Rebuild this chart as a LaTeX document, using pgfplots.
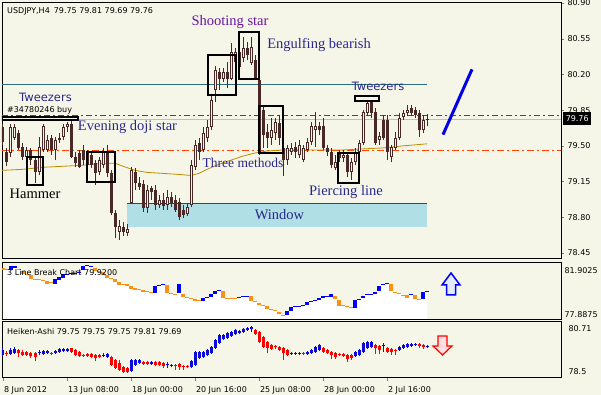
\documentclass[border=0pt]{standalone}
\usepackage{fontspec}
\setmainfont{DejaVu Sans}
\newfontfamily\ser{Liberation Serif}
\usepackage{pgfplots}
\pgfplotsset{compat=1.18}
\usepackage{pgfplotstable}
\definecolor{bg}{RGB}{246,246,232}
\definecolor{candle}{RGB}{75,40,40}
\definecolor{win}{RGB}{176,224,230}
\definecolor{winline}{RGB}{50,75,80}
\definecolor{hline}{RGB}{45,110,130}
\definecolor{ord}{RGB}{0,128,0}
\definecolor{sup}{RGB}{255,69,0}
\definecolor{ma}{RGB}{190,140,0}
\definecolor{tl}{RGB}{0,0,230}
\definecolor{lbO}{RGB}{250,145,20}
\definecolor{lbB}{RGB}{0,0,255}
\definecolor{haR}{RGB}{255,0,0}
\definecolor{haB}{RGB}{10,10,220}
\definecolor{navy}{RGB}{40,40,140}
\definecolor{purp}{RGB}{105,20,160}
\definecolor{pline}{RGB}{190,190,190}
\newcommand\ui{\fontsize{8}{9.6}\selectfont}
\newcommand\an{\ser\fontsize{14.5}{17}\selectfont}
\newcommand\tw{\fontsize{11.5}{13}\selectfont}

\pgfplotstableread{
i O H L C
0 79.68 79.71 79.51 79.54
1 79.44 79.48 79.30 79.34
2 79.43 79.71 79.39 79.68
3 79.58 79.71 79.56 79.68
4 79.63 79.66 79.46 79.48
5 79.49 79.53 79.36 79.39
6 79.39 79.49 79.36 79.46
7 79.46 79.48 79.31 79.36
8 79.36 79.39 79.14 79.24
9 79.24 79.59 79.21 79.49
10 79.46 79.71 79.44 79.69
11 79.46 79.61 79.44 79.56
12 79.58 79.61 79.41 79.46
13 79.46 79.59 79.36 79.56
14 79.56 79.63 79.53 79.58
15 79.59 79.71 79.56 79.68
16 79.68 79.73 79.64 79.71
17 79.71 79.75 79.38 79.39
18 79.39 79.44 79.29 79.33
19 79.43 79.46 79.28 79.29
20 79.46 79.51 79.31 79.36
21 79.31 79.46 79.26 79.44
22 79.41 79.44 79.28 79.31
23 79.33 79.36 79.12 79.23
24 79.24 79.39 79.21 79.36
25 79.31 79.48 79.28 79.44
26 79.43 79.51 79.19 79.23
27 79.23 79.26 78.82 78.84
28 78.84 78.87 78.60 78.70
29 78.66 78.77 78.58 78.71
30 78.70 78.75 78.62 78.66
31 78.65 78.73 78.62 78.69
32 78.94 79.29 78.93 79.26
33 79.24 79.28 79.07 79.14
34 79.14 79.19 79.07 79.10
35 79.13 79.17 78.85 78.89
36 78.89 79.12 78.84 79.07
37 79.09 79.11 78.97 79.05
38 79.07 79.12 78.87 78.92
39 78.92 79.02 78.89 78.97
40 78.97 79.04 78.87 78.91
41 78.92 79.07 78.87 79.00
42 79.00 79.05 78.90 78.94
43 78.97 79.02 78.85 78.87
44 78.95 78.99 78.77 78.80
45 78.87 78.92 78.79 78.82
46 78.83 78.94 78.81 78.90
47 78.92 79.36 78.90 79.31
48 79.29 79.56 79.26 79.51
49 79.53 79.58 79.36 79.44
50 79.46 79.68 79.44 79.63
51 79.58 79.75 79.54 79.68
52 79.68 80.00 79.66 79.95
53 80.05 80.28 79.93 80.24
54 80.22 80.26 80.05 80.16
55 80.16 80.26 80.13 80.22
56 80.22 80.32 80.07 80.16
57 80.16 80.51 80.15 80.42
58 80.32 80.46 80.24 80.42
59 80.27 80.46 80.22 80.42
60 80.36 80.57 80.32 80.46
61 80.46 80.52 80.34 80.39
62 80.31 80.57 80.29 80.47
63 80.34 80.39 80.15 80.16
64 80.15 80.17 79.41 79.44
65 79.85 79.89 79.48 79.61
66 79.64 79.71 79.48 79.58
67 79.58 79.77 79.51 79.66
68 79.63 79.77 79.56 79.73
69 79.72 79.80 79.51 79.58
70 79.48 79.51 79.20 79.36
71 79.36 79.51 79.31 79.48
72 79.44 79.53 79.41 79.48
73 79.49 79.54 79.38 79.44
74 79.41 79.56 79.38 79.51
75 79.36 79.51 79.34 79.48
76 79.46 79.58 79.44 79.54
77 79.54 79.73 79.51 79.69
78 79.66 79.83 79.49 79.69
79 79.69 79.73 79.61 79.66
80 79.69 79.77 79.46 79.48
81 79.48 79.51 79.40 79.44
82 79.44 79.48 79.28 79.31
83 79.28 79.41 79.26 79.34
84 79.44 79.46 79.34 79.38
85 79.38 79.46 79.34 79.41
86 79.41 79.43 79.19 79.24
87 79.24 79.38 79.17 79.34
88 79.34 79.48 79.31 79.44
89 79.44 79.56 79.41 79.53
90 79.53 79.85 79.51 79.83
91 79.82 79.95 79.79 79.92
92 79.95 79.97 79.77 79.82
93 79.83 79.87 79.51 79.53
94 79.56 79.64 79.51 79.60
95 79.75 79.80 79.56 79.58
96 79.75 79.80 79.36 79.44
97 79.39 79.51 79.34 79.49
98 79.48 79.64 79.46 79.58
99 79.58 79.82 79.56 79.77
100 79.78 79.85 79.75 79.82
101 79.82 79.90 79.79 79.85
102 79.87 79.90 79.79 79.82
103 79.85 79.88 79.77 79.80
104 79.82 79.85 79.59 79.66
105 79.66 79.80 79.63 79.75
106 79.75 79.81 79.69 79.76
}\candles

\pgfplotstableread{
i lo hi c
0 81.37 81.48 0
1 81.34 81.44 0
2 81.34 81.59 1
3 81.48 81.59 1
4 81.34 81.41 0
5 81.06 81.27 0
6 80.99 81.09 0
7 80.70 80.99 0
8 80.63 80.70 0
9 80.60 80.67 0
10 80.56 80.63 0
11 80.35 80.56 0
12 80.42 80.49 0
13 80.35 80.70 1
14 80.63 80.85 1
15 80.78 81.06 1
16 81.02 81.09 1
17 81.06 81.13 1
18 81.06 81.13 1
19 81.13 81.20 1
20 81.34 81.62 1
21 81.59 81.66 1
22 81.55 81.62 1
23 81.27 81.48 0
24 81.20 81.27 0
25 80.99 81.20 0
26 80.78 80.99 0
27 80.70 80.78 0
28 80.49 80.70 0
29 80.28 80.49 0
30 80.28 80.35 0
31 80.21 80.35 0
32 80.00 80.21 0
33 79.93 80.07 0
34 79.93 80.00 0
35 79.79 79.93 0
36 79.79 79.86 0
37 79.72 79.79 0
38 79.72 80.21 1
39 80.21 80.28 1
40 80.28 80.35 1
41 79.72 80.28 0
42 79.65 79.72 0
43 79.61 79.68 0
44 79.72 80.35 1
45 79.44 79.65 0
46 79.37 79.44 0
47 79.30 79.37 0
48 79.16 79.30 0
49 79.16 79.23 0
50 79.16 79.37 1
51 79.37 79.44 1
52 79.44 79.65 1
53 79.65 79.86 1
54 79.86 79.93 1
55 79.37 79.86 0
56 79.30 79.37 0
57 79.30 79.37 0
58 79.33 79.40 0
59 79.37 79.44 1
60 79.44 79.51 1
61 79.44 79.51 1
62 79.16 79.51 0
63 79.05 79.12 0
64 78.87 79.01 0
65 78.80 78.87 0
66 78.59 78.80 0
67 78.49 78.56 0
68 78.45 78.52 0
69 78.24 78.38 0
70 78.13 78.20 0
71 78.17 78.45 1
72 78.45 78.73 1
73 78.70 78.77 1
74 78.73 78.80 1
75 78.77 78.84 1
76 78.87 79.09 1
77 79.09 79.16 1
78 79.16 79.23 1
79 79.23 79.37 1
80 79.37 79.51 1
81 79.47 79.54 1
82 79.44 79.65 1
83 79.30 79.51 0
84 78.80 79.23 0
85 78.77 78.84 0
86 78.70 78.77 0
87 78.66 78.73 0
88 78.66 79.23 1
89 79.26 79.33 1
90 79.37 79.51 1
91 79.58 79.65 1
92 79.61 79.68 1
93 79.65 79.79 1
94 79.86 80.21 1
95 80.28 80.35 1
96 80.35 80.42 1
97 79.86 80.35 0
98 79.72 79.79 0
99 79.65 79.72 0
100 79.54 79.61 0
101 79.37 79.58 0
102 79.58 79.65 1
103 79.30 79.58 0
104 79.23 79.30 0
105 79.30 79.79 1
106 79.79 79.86 1
}\lb

\pgfplotstableread{
i O H L C
0 79.37 79.64 79.33 79.57
1 79.45 79.53 79.33 79.41
2 79.41 79.64 79.37 79.57
3 79.45 79.68 79.41 79.61
4 79.57 79.61 79.29 79.45
5 79.49 79.57 79.33 79.37
6 79.49 79.53 79.33 79.37
7 79.45 79.49 79.25 79.33
8 79.45 79.49 79.13 79.29
9 79.45 79.57 79.37 79.49
10 79.41 79.57 79.37 79.53
11 79.45 79.57 79.41 79.53
12 79.45 79.49 79.37 79.41
13 79.45 79.57 79.41 79.53
14 79.49 79.64 79.45 79.61
15 79.53 79.64 79.49 79.61
16 79.53 79.64 79.49 79.61
17 79.64 79.64 79.45 79.49
18 79.57 79.61 79.33 79.37
19 79.49 79.53 79.29 79.33
20 79.37 79.41 79.29 79.33
21 79.41 79.45 79.29 79.33
22 79.41 79.45 79.25 79.29
23 79.37 79.41 79.13 79.25
24 79.37 79.41 79.25 79.29
25 79.33 79.45 79.29 79.37
26 79.29 79.45 79.25 79.41
27 79.29 79.33 78.93 78.97
28 79.17 79.21 78.82 78.86
29 79.05 79.17 78.74 78.78
30 78.90 78.93 78.66 78.70
31 78.86 78.90 78.66 78.70
32 78.74 79.21 78.70 79.17
33 78.97 79.21 78.93 79.17
34 79.05 79.21 79.01 79.17
35 79.09 79.13 78.97 79.01
36 79.09 79.13 78.97 79.01
37 79.01 79.13 78.97 79.09
38 79.09 79.13 78.93 78.97
39 79.09 79.13 78.93 78.97
40 79.05 79.09 78.86 78.93
41 78.97 79.09 78.86 79.01
42 78.93 79.01 78.90 78.97
43 78.97 79.01 78.78 78.93
44 79.01 79.05 78.78 78.90
45 78.93 78.97 78.78 78.90
46 78.93 78.97 78.86 78.90
47 78.90 79.17 78.86 79.13
48 78.97 79.53 78.93 79.49
49 79.25 79.53 79.21 79.49
50 79.29 79.53 79.25 79.49
51 79.37 79.61 79.33 79.57
52 79.45 79.72 79.41 79.68
53 79.64 80.00 79.61 79.96
54 79.84 80.20 79.80 80.16
55 80.00 80.20 79.96 80.16
56 80.04 80.28 80.00 80.24
57 80.12 80.32 80.08 80.28
58 80.20 80.39 80.16 80.35
59 80.24 80.35 80.20 80.32
60 80.28 80.43 80.24 80.39
61 80.35 80.47 80.32 80.43
62 80.39 80.51 80.28 80.47
63 80.35 80.39 80.16 80.20
64 80.28 80.32 79.84 79.88
65 80.08 80.12 79.64 79.68
66 79.88 79.92 79.45 79.64
67 79.76 79.80 79.57 79.61
68 79.72 79.76 79.61 79.68
69 79.68 79.72 79.53 79.57
70 79.64 79.68 79.17 79.45
71 79.57 79.61 79.33 79.37
72 79.41 79.49 79.37 79.45
73 79.41 79.49 79.37 79.45
74 79.41 79.49 79.37 79.45
75 79.45 79.49 79.37 79.41
76 79.41 79.53 79.37 79.49
77 79.45 79.61 79.41 79.57
78 79.49 79.72 79.45 79.68
79 79.57 79.80 79.53 79.76
80 79.64 79.68 79.45 79.49
81 79.57 79.61 79.41 79.45
82 79.49 79.53 79.21 79.37
83 79.45 79.49 79.21 79.29
84 79.41 79.45 79.33 79.37
85 79.41 79.45 79.29 79.33
86 79.37 79.41 79.09 79.21
87 79.37 79.41 79.17 79.25
88 79.33 79.53 79.29 79.49
89 79.37 79.61 79.33 79.57
90 79.49 79.88 79.45 79.84
91 79.64 79.92 79.61 79.88
92 79.68 79.92 79.64 79.88
93 79.76 79.80 79.41 79.64
94 79.72 79.76 79.41 79.57
95 79.72 79.84 79.49 79.76
96 79.64 79.68 79.45 79.49
97 79.61 79.64 79.37 79.49
98 79.57 79.61 79.37 79.53
99 79.57 79.72 79.53 79.68
100 79.64 79.80 79.61 79.76
101 79.68 79.84 79.64 79.80
102 79.72 79.84 79.68 79.80
103 79.76 79.84 79.72 79.80
104 79.80 79.84 79.64 79.72
105 79.76 79.80 79.61 79.68
106 79.68 79.76 79.64 79.72
}\ha

\pgfplotsset{
  panel/.style={scale only axis, width=559pt, xmin=-0.25, xmax=139.5,
    axis line style={black, line width=0.8pt}, clip=true, tick align=outside,
    ytick pos=right, yticklabel pos=right,
    /pgf/number format/assume math mode=true, ticklabel style={font=\ui},
    xtick=\empty, anchor=south west},
  eb/.style 2 args={draw=none, mark=none, forget plot,
    /pgfplots/error bars/y dir=plus, /pgfplots/error bars/y explicit,
    /pgfplots/error bars/error mark=none,
    /pgfplots/error bars/error bar style={line width=#1, draw=#2, solid}},
}

\begin{document}
\begin{tikzpicture}
\useasboundingbox (0,0) rectangle (601pt,395pt);
\fill[bg] (0,0) rectangle (601pt,395pt);

% ---------------- main panel ----------------
\begin{axis}[panel, at={(2pt,137pt)}, height=256pt, ymin=78.401, ymax=80.91,
  ytick={78.45,78.80,79.15,79.50,79.85,80.20,80.55,80.90}, major tick length=3pt,
  yticklabel style={/pgf/number format/fixed, /pgf/number format/fixed zerofill, /pgf/number format/precision=2}]
\addplot[fill=win, draw=none, forget plot] coordinates {(31,78.70) (31,78.94) (106,78.94) (106,78.70)} -- cycle;
\addplot[winline, line width=1pt, forget plot] coordinates {(31,78.94) (106,78.94)};
\addplot[hline, line width=1pt, forget plot] coordinates {(-0.25,80.10) (106,80.10)};
\addplot[ord, line width=0.8pt, dash pattern=on 6pt off 3pt on 2pt off 3pt, forget plot] coordinates {(-0.25,79.80) (139.5,79.80)};
\addplot[pline, line width=0.8pt, forget plot] coordinates {(-0.25,79.76) (139.5,79.76)};
\addplot[sup, line width=0.8pt, dash pattern=on 7pt off 3pt on 2pt off 3pt, forget plot] coordinates {(-0.25,79.46) (139.5,79.46)};
\addplot[ma, line width=0.8pt, forget plot] coordinates {(-0.25,79.26) (5,79.27) (10,79.29) (15,79.30) (20,79.31) (25,79.33) (28,79.33) (30,79.30) (33,79.26) (36,79.24) (40,79.23) (44,79.22) (47,79.21) (49,79.23) (51,79.27) (54,79.32) (57,79.36) (60,79.40) (63,79.43) (66,79.45) (70,79.46) (75,79.46) (80,79.46) (85,79.46) (90,79.47) (95,79.48) (100,79.50) (103,79.51) (106,79.52)};
% candles: wicks, bodies, hollow bull interiors
\addplot[eb={1pt}{candle}] table[x=i, y=L, y error expr=\thisrow{H}-\thisrow{L}] {\candles};
\addplot[eb={3pt}{candle}] table[x=i, y expr={min(\thisrow{O},\thisrow{C})}, y error expr={abs(\thisrow{C}-\thisrow{O})}] {\candles};
\addplot[eb={1pt}{bg}, restrict expr to domain={\thisrow{C}-\thisrow{O}}{0.025:100},
  /pgfplots/error bars/error bar style={shorten <=1pt, shorten >=1pt}] table[x=i, y=O, y error expr=\thisrow{C}-\thisrow{O}] {\candles};
% pattern boxes
\addplot[black, line width=2pt, forget plot] coordinates {(-0.25,79.78) (18.75,79.78) (18.75,79.75) (-0.25,79.75)} -- cycle;
\addplot[black, line width=2pt, forget plot] coordinates {(6,79.39) (10,79.39) (10,79.12) (6,79.12)} -- cycle;
\addplot[black, line width=2pt, forget plot] coordinates {(21,79.44) (28,79.44) (28,79.15) (21,79.15)} -- cycle;
\addplot[black, line width=2pt, forget plot] coordinates {(51.25,80.39) (58.25,80.39) (58.25,80.00) (51.25,80.00)} -- cycle;
\addplot[black, line width=2pt, forget plot] coordinates {(59,80.62) (64,80.62) (64,80.16) (59,80.16)} -- cycle;
\addplot[black, line width=2pt, forget plot] coordinates {(64,79.89) (70,79.89) (70,79.43) (64,79.43)} -- cycle;
\addplot[black, line width=2pt, forget plot] coordinates {(83.75,79.43) (89,79.43) (89,79.14) (83.75,79.14)} -- cycle;
\addplot[black, fill=bg, line width=2pt, forget plot] coordinates {(88,79.99) (94,79.99) (94,79.94) (88,79.94)} -- cycle;
% trend line
\addplot[tl, line width=3pt, forget plot] coordinates {(110,79.61) (117.25,80.25)};
\end{axis}

% ---------------- 3 line break ----------------
\begin{axis}[panel, at={(2pt,76pt)}, height=57pt, ymin=77.8875, ymax=81.9025,
  ytick={81.9025}, yticklabels={81.9025}, major tick length=0pt,
  yticklabel style={anchor=north west, yshift=-2pt},
  extra y ticks={77.8875}, extra y tick labels={77.8875},
  extra y tick style={yticklabel style={anchor=south west, yshift=0pt}}]
\addplot[fill=white, draw=none, const plot mark mid, forget plot] table[x=i, y=lo] {\lb} \closedcycle;
\addplot[eb={4pt}{lbB}, restrict expr to domain={\thisrow{c}}{0.5:1.5}] table[x=i, y=lo, y error expr=\thisrow{hi}-\thisrow{lo}] {\lb};
\addplot[eb={4pt}{lbO}, restrict expr to domain={\thisrow{c}}{-0.5:0.5}] table[x=i, y=lo, y error expr=\thisrow{hi}-\thisrow{lo}] {\lb};
\end{axis}

% ---------------- Heiken-Ashi ----------------
\begin{axis}[panel, at={(2pt,18pt)}, height=56pt, ymin=78.50, ymax=80.71,
  ytick={80.71}, yticklabels={80.71}, ytick style={draw=none},
  yticklabel style={anchor=north west, yshift=-1pt},
  extra y ticks={78.5}, extra y tick labels={78.5},
  extra y tick style={yticklabel style={anchor=south west}, tick style={draw=none}},
  xtick={0,16,32,48,64,80,96}, xtick pos=bottom, major tick length=4pt,
  xticklabels={8 Jun 2012, 13 Jun 08:00, 18 Jun 00:00, 20 Jun 16:00, 25 Jun 08:00, 28 Jun 00:00, 2 Jul 16:00},
  xticklabel style={anchor=north west, xshift=-2.5pt, yshift=-2pt}]
\addplot[eb={1pt}{haB}, restrict expr to domain={\thisrow{C}-\thisrow{O}}{0:100}] table[x=i, y=L, y error expr=\thisrow{H}-\thisrow{L}] {\ha};
\addplot[eb={1pt}{haR}, restrict expr to domain={\thisrow{C}-\thisrow{O}}{-100:-0.0001}] table[x=i, y=L, y error expr=\thisrow{H}-\thisrow{L}] {\ha};
\addplot[eb={3pt}{haB}, restrict expr to domain={\thisrow{C}-\thisrow{O}}{0:100}] table[x=i, y=O, y error expr=\thisrow{C}-\thisrow{O}] {\ha};
\addplot[eb={3pt}{haR}, restrict expr to domain={\thisrow{C}-\thisrow{O}}{-100:-0.0001}] table[x=i, y=C, y error expr=\thisrow{O}-\thisrow{C}] {\ha};
\end{axis}

% ---------------- texts and signals ----------------
\begin{scope}[shift={(0pt,395pt)}, x=1pt, y=-1pt]
\node[font=\ui, anchor=west, inner sep=0] at (7,11) {USDJPY,H4\enspace 79.75 79.81 79.69 79.76};
\node[font=\an, text=purp] at (230,22) {Shooting star};
\node[font=\an, text=navy] at (319,45) {Engulfing bearish};
\node[font=\tw, text=navy] at (45.5,97) {Tweezers};
\node[font=\ui, anchor=west, inner sep=0] at (7,110) {\#34780246 buy};
\node[font=\an, text=navy] at (127.5,127) {Evening doji star};
\node[font=\ser\fontsize{13.5}{16}\selectfont, text=navy] at (243,163) {Three methods};
\node[font=\an, text=black] at (35,194) {Hammer};
\node[font=\an, text=navy] at (346,192) {Piercing line};
\node[font=\an, text=navy] at (279.5,215) {Window};
\node[font=\tw, text=navy] at (378,86) {Tweezers};
\node[fill=black, text=white, font=\ui, inner sep=0, minimum width=28pt, minimum height=13pt, anchor=west] at (563,119) {79.76};
\node[font=\ui, anchor=west, inner sep=0] at (7,273) {3 Line Break Chart 79.9200};
\node[font=\ui, anchor=west, inner sep=0] at (7,332) {Heiken-Ashi 79.75 79.75 79.75 79.81 79.69};
\draw[lbB, line width=1.5pt, fill={rgb,255:red,228;green,234;blue,255}, line join=miter] (451,273) -- (460,285) -- (455.5,285) -- (455.5,295) -- (446.5,295) -- (446.5,285) -- (442,285) -- cycle;
\draw[haR, line width=1.2pt, fill={rgb,255:red,255;green,224;blue,224}, line join=miter] (438,336) -- (447,336) -- (447,346) -- (452,346) -- (442.5,355) -- (433,346) -- (438,346) -- cycle;
\end{scope}
\end{tikzpicture}
\end{document}
